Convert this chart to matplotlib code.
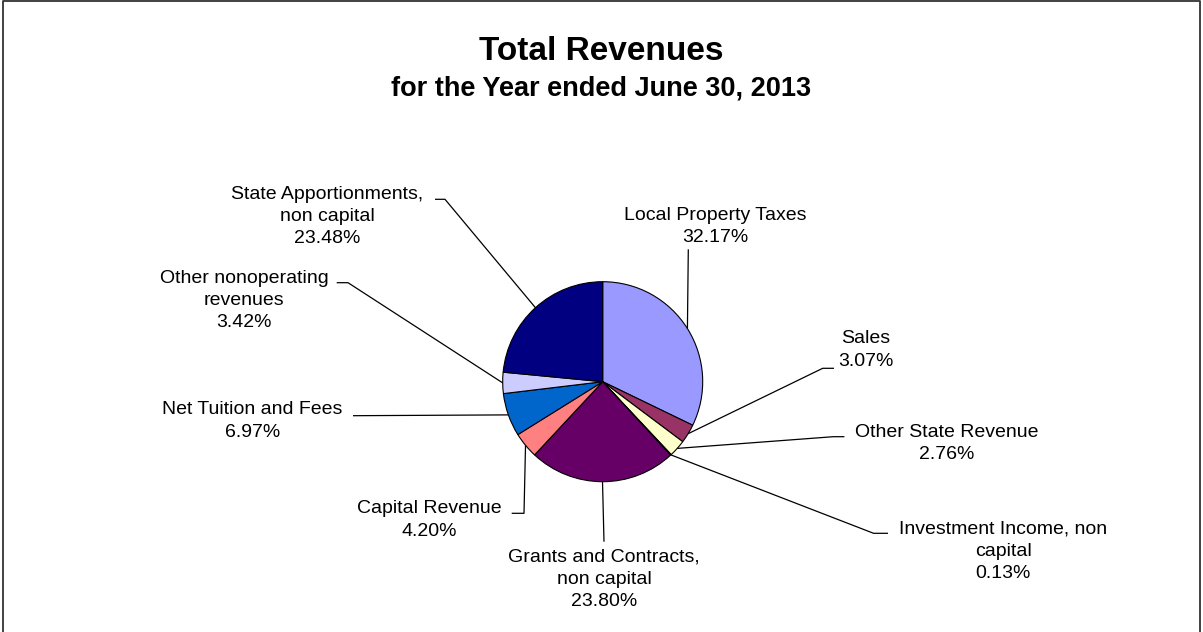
import numpy as np
import matplotlib

matplotlib.use("Agg")
import matplotlib.pyplot as plt

plt.rcParams["font.family"] = ["Liberation Sans", "DejaVu Sans"]

# data (share of total revenues, %)
categories = [
    "Local Property Taxes",
    "Sales",
    "Other State Revenue",
    "Investment Income, non\ncapital",
    "Grants and Contracts,\nnon capital",
    "Capital Revenue",
    "Net Tuition and Fees",
    "Other nonoperating\nrevenues",
    "State Apportionments,\nnon capital",
]
shares = [32.17, 3.07, 2.76, 0.13, 23.80, 4.20, 6.97, 3.42, 23.48]
colors = ["#9999FF", "#993366", "#FFFFCC", "#CCFFFF", "#660066",
          "#FF8080", "#0066CC", "#CCCCFF", "#000080"]

W, H = 1203, 632
CX, CY, R = 602.7, H - 381.7, 100

# label block centres and leader stubs, in pixels from the top-left
label_pos = [(715, 226.5), (866, 350), (947, 443.3), (1003, 551.5), (604, 579.5),
             (429.5, 520), (252.5, 421), (244, 300.5), (327, 216.5)]
leader_pts = [
    [(688.3, 249.3)],
    [(834, 368.3), (822.7, 368.3)],
    [(844.4, 436.7), (833.4, 436.7)],
    [(888, 533.3), (873.6, 533.3)],
    [(604, 541.7)],
    [(511.7, 513.3), (524, 513.3)],
    [(353, 415.7)],
    [(336.7, 282.7), (348, 282.7)],
    [(435, 199.3), (445, 199.3)],
]

fig = plt.figure(figsize=(W / 100, H / 100), dpi=100)
ax = fig.add_axes([0, 0, 1, 1])

wedges, _ = ax.pie(shares, colors=colors, startangle=90, counterclock=False,
                   radius=R, center=(CX, CY), frame=True,
                   wedgeprops=dict(edgecolor="black", linewidth=0.8))
ax.set_xlim(0, W)
ax.set_ylim(0, H)
ax.set_aspect("equal")
ax.axis("off")

for w, name, val, (lx, ly), pts in zip(wedges, categories, shares, label_pos, leader_pts):
    mid = np.deg2rad((w.theta1 + w.theta2) / 2)
    ex, ey = CX + R * np.cos(mid), CY + R * np.sin(mid)
    xs = [p[0] for p in pts] + [ex]
    ys = [H - p[1] for p in pts] + [ey]
    ax.plot(xs, ys, color="black", lw=0.9, solid_capstyle="butt")
    ax.text(lx, H - ly, f"{name}\n{val:.2f}%", ha="center", va="center",
            fontsize=14, linespacing=1.42, color="black")

ax.text(W / 2, H - 60, "Total Revenues", ha="center", va="baseline",
        fontsize=24, fontweight="bold")
ax.text(W / 2, H - 96, "for the Year ended June 30, 2013", ha="center",
        va="baseline", fontsize=19.5, fontweight="bold")

# outer chart frame (bottom edge is cropped off in the reference)
ax.plot([3, 3, 1200, 1200], [-10, H - 1, H - 1, -10], color="#333333",
        lw=1.3, clip_on=False)

fig.savefig("out.png", dpi=100)
